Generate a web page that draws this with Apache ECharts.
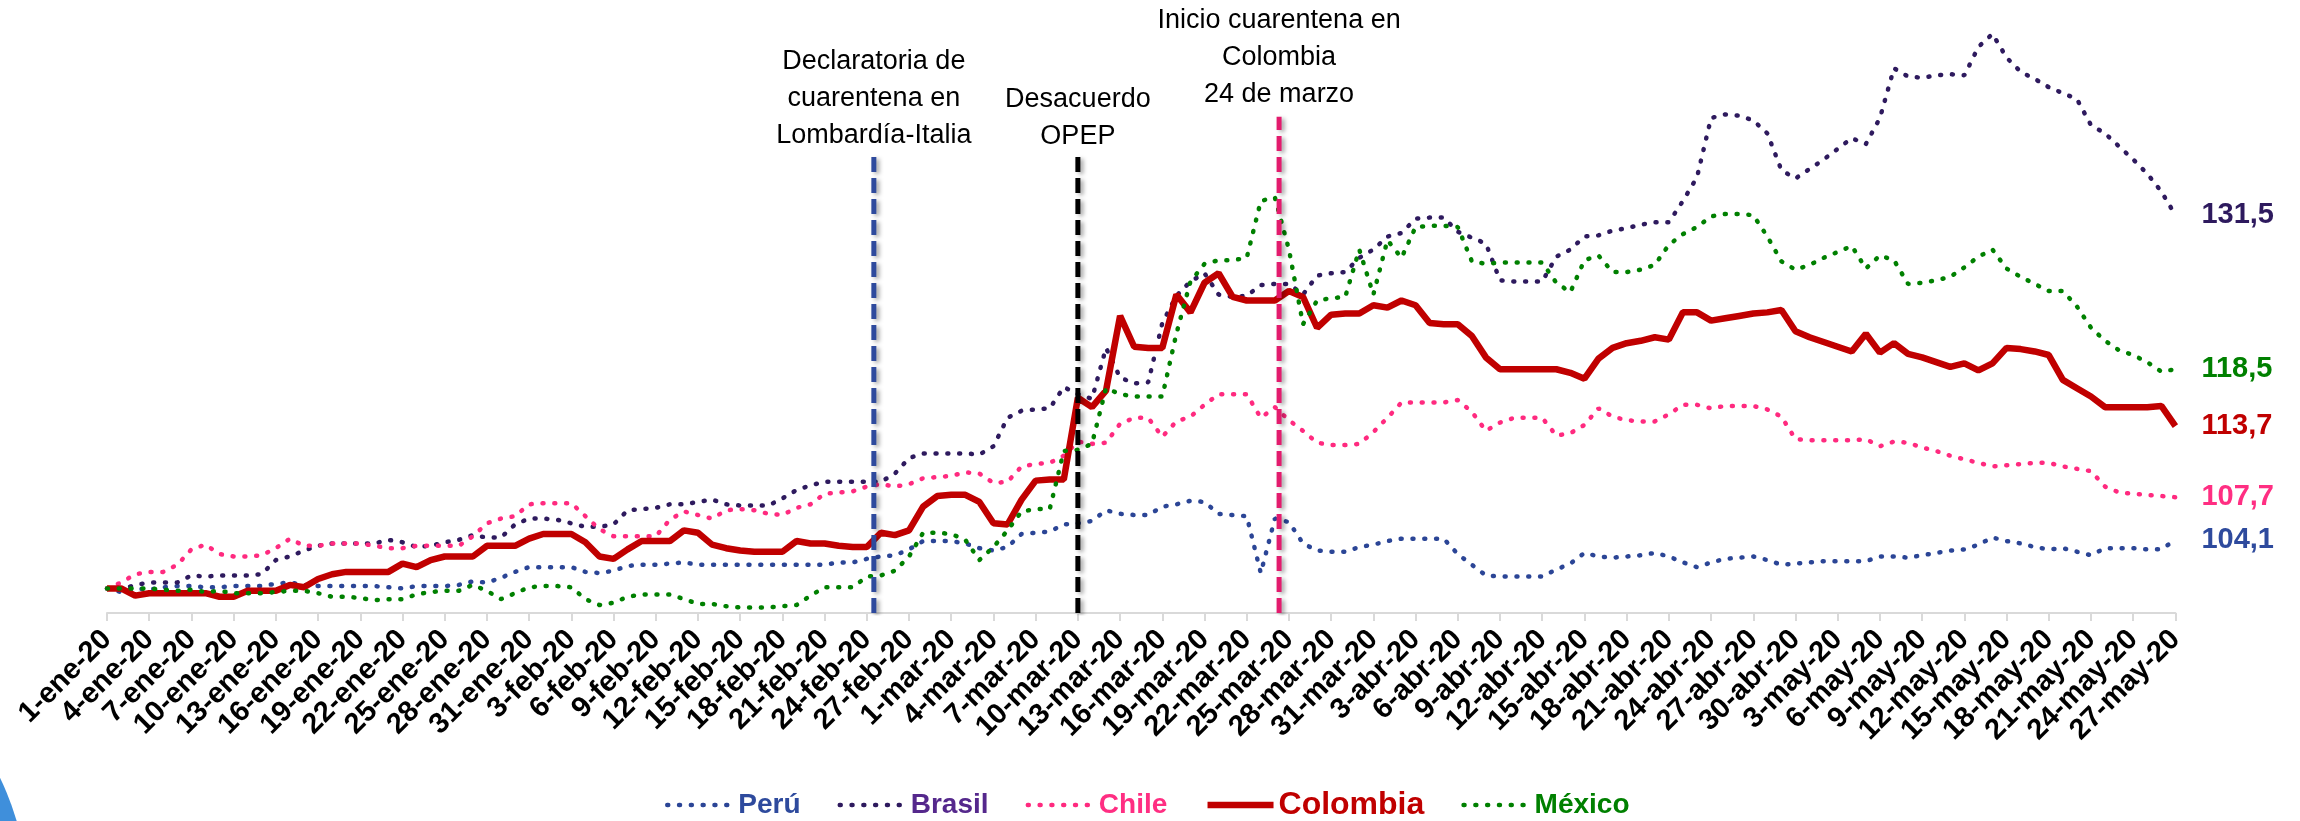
<!DOCTYPE html>
<html>
<head>
<meta charset="utf-8">
<script src="https://cdn.jsdelivr.net/npm/echarts@6/dist/echarts.min.js"></script>
<style>
html, body { margin: 0; padding: 0; background: #fff; }
#main { width: 2300px; height: 821px; }
</style>
</head>
<body>
<div id="main"></div>
<script>
// eje x: un dato por día calendario, 1-ene-20 a 27-may-20
const meses = ['ene', 'feb', 'mar', 'abr', 'may'];
const diasMes = [31, 29, 31, 30, 27];
const fechas = [];
meses.forEach((m, k) => {
  for (let d = 1; d <= diasMes[k]; d++) fechas.push(d + '-' + m + '-20');
});

// índices (1-ene-20 = 100)
const peru = [
  100, 99.7, 100.0, 99.9, 100.1, 100.2, 100.2, 100.1, 100.1, 100.2, 100.2, 100.2, 100.4, 100.5, 100.3, 100.2,
  100.2, 100.2, 100.2, 100.2, 100.1, 100.0, 100.2, 100.2, 100.2, 100.3, 100.6, 100.5, 100.9, 101.4, 101.8,
  101.8, 101.8, 101.8, 101.4, 101.3, 101.5, 101.9, 102.0, 102.0, 102.1, 102.2, 102.0, 102.0, 102.0, 102.0,
  102.0, 102.0, 102.0, 102.0, 102.0, 102.0, 102.2, 102.2, 102.5, 102.7, 102.8, 103.3, 104.0, 104.0,
  104.0, 103.8, 103.4, 103.2, 103.5, 104.6, 104.7, 104.8, 105.4, 105.5, 105.7, 106.6, 106.3, 106.2, 106.2, 106.9,
  107.1, 107.4, 107.3, 106.3, 106.2, 106.1, 101.3, 105.9, 105.6, 103.8, 103.2, 103.1, 103.1, 103.5, 103.7,
  104.0, 104.2, 104.2, 104.2, 104.2, 102.9, 102.0, 101.1, 101.0, 101.0, 101.0, 101.0, 101.6, 102.1, 103.0,
  102.7, 102.6, 102.7, 102.8, 103.0, 102.7, 102.2, 101.8, 102.2, 102.5, 102.6, 102.7, 102.4, 102.0, 102.1,
  102.2, 102.3, 102.3, 102.3, 102.3, 102.7, 102.7, 102.6, 102.8, 103.0, 103.2, 103.3, 103.7, 104.3,
  104.0, 103.8, 103.5, 103.3, 103.4, 103.1, 102.8, 103.4, 103.4, 103.4, 103.3, 103.3, 104.1
];
const brasil = [
  100, 99.9, 100.3, 100.5, 100.5, 100.5, 101.1, 101.0, 101.1, 101.1, 101.1, 101.2, 102.4, 102.7, 103.2, 103.6,
  103.8, 103.8, 103.8, 103.8, 104.1, 103.9, 103.5, 103.6, 103.9, 104.1, 104.5, 104.3, 104.3, 105.4, 105.9,
  105.9, 105.8, 105.5, 105.2, 105.2, 105.4, 106.6, 106.7, 106.8, 107.1, 107.1, 107.3, 107.5, 107.1, 107.0,
  107.0, 107.0, 107.6, 108.3, 108.7, 109.0, 109.0, 109.0, 109.0, 109.0, 109.7, 111.0, 111.4, 111.4,
  111.4, 111.4, 111.3, 112.0, 114.4, 115.0, 115.1, 115.2, 117.0, 116.4, 116.0, 120.3, 117.8, 117.3, 117.4, 122.4,
  124.7, 125.9, 126.6, 124.8, 124.6, 124.7, 125.6, 125.7, 125.7, 124.8, 126.4, 126.6, 126.7, 127.9, 128.6,
  129.7, 130.0, 131.2, 131.3, 131.3, 130.1, 129.6, 129.1, 126.0, 125.9, 125.9, 125.9, 128.0, 128.6, 129.7,
  129.8, 130.2, 130.4, 130.7, 130.9, 130.9, 132.7, 134.7, 139.7, 140.0, 139.9, 139.5, 138.4, 135.3, 134.6,
  135.4, 136.2, 137.1, 138.0, 137.5, 139.7, 143.9, 143.2, 143.1, 143.3, 143.4, 143.3, 145.7, 146.8,
  144.8, 143.6, 143.0, 142.3, 141.8, 141.3, 139.1, 138.4, 137.3, 136.2, 135.0, 133.5, 131.5
];
const chile = [
  100, 100.5, 101.2, 101.4, 101.4, 102.0, 103.3, 103.7, 102.9, 102.7, 102.7, 102.8, 103.4, 104.2, 103.6, 103.6,
  103.8, 103.8, 103.8, 103.6, 103.4, 103.4, 103.6, 103.6, 103.6, 103.6, 104.4, 105.5, 105.9, 106.1, 107.1,
  107.2, 107.2, 107.2, 106.1, 105.0, 104.4, 104.4, 104.4, 104.4, 105.8, 106.5, 106.2, 105.9, 106.6, 106.7,
  106.6, 106.3, 106.2, 106.8, 107.1, 108.0, 108.1, 108.2, 108.6, 108.8, 108.6, 108.8, 109.3, 109.4,
  109.5, 109.8, 109.7, 108.9, 109.0, 110.3, 110.5, 110.6, 111.2, 112.4, 112.2, 112.3, 113.9, 114.4, 114.4, 112.8,
  114.1, 114.5, 115.5, 116.4, 116.4, 116.4, 114.4, 115.3, 114.2, 113.3, 112.3, 112.1, 112.1, 112.2, 113.2,
  114.4, 115.7, 115.7, 115.7, 115.7, 115.9, 114.9, 113.3, 114.0, 114.4, 114.4, 114.4, 112.9, 113.1, 113.8,
  115.2, 114.5, 114.2, 114.1, 114.1, 114.7, 115.5, 115.5, 115.2, 115.4, 115.4, 115.4, 115.1, 114.5, 112.6,
  112.5, 112.5, 112.5, 112.5, 112.6, 112.0, 112.4, 112.3, 111.9, 111.6, 111.2, 110.9, 110.6, 110.3,
  110.4, 110.5, 110.6, 110.6, 110.3, 110.1, 109.9, 108.6, 108.1, 108.0, 107.9, 107.8, 107.7
];
const colombia = [
  100, 100, 99.4, 99.6, 99.6, 99.6, 99.6, 99.6, 99.3, 99.3, 99.8, 99.8, 99.8, 100.3, 100.1, 100.8,
  101.2, 101.4, 101.4, 101.4, 101.4, 102.1, 101.8, 102.4, 102.7, 102.7, 102.7, 103.6, 103.6, 103.6, 104.2,
  104.6, 104.6, 104.6, 103.9, 102.7, 102.5, 103.3, 104.0, 104.0, 104.0, 104.9, 104.7, 103.7, 103.4, 103.2,
  103.1, 103.1, 103.1, 104.0, 103.8, 103.8, 103.6, 103.5, 103.5, 104.7, 104.5, 104.9, 106.9, 107.8,
  107.9, 107.9, 107.3, 105.5, 105.4, 107.5, 109.1, 109.2, 109.2, 116.1, 115.3, 116.7, 123.0, 120.4, 120.3, 120.3,
  124.8, 123.3, 125.8, 126.6, 124.6, 124.3, 124.3, 124.3, 125.1, 124.6, 122.0, 123.1, 123.2, 123.2, 123.9,
  123.7, 124.3, 123.9, 122.4, 122.3, 122.3, 121.3, 119.5, 118.5, 118.5, 118.5, 118.5, 118.5, 118.2, 117.7,
  119.4, 120.3, 120.7, 120.9, 121.2, 121.0, 123.3, 123.3, 122.6, 122.8, 123.0, 123.2, 123.3, 123.5, 121.7,
  121.2, 120.8, 120.4, 120.0, 121.5, 119.9, 120.7, 119.8, 119.5, 119.1, 118.7, 119.0, 118.4, 119.0,
  120.3, 120.2, 120.0, 119.7, 117.6, 116.9, 116.2, 115.3, 115.3, 115.3, 115.3, 115.4, 113.7
];
const mexico = [
  100, 100, 100, 100, 99.9, 99.8, 99.9, 99.7, 99.8, 99.6, 99.6, 99.6, 99.7, 99.8, 99.8, 99.6,
  99.3, 99.3, 99.2, 99.0, 99.1, 99.1, 99.5, 99.7, 99.8, 99.8, 100.3, 99.8, 99.1, 99.6, 100.1,
  100.2, 100.2, 100.1, 99.1, 98.6, 98.8, 99.3, 99.5, 99.5, 99.5, 99.1, 98.7, 98.7, 98.5, 98.4,
  98.4, 98.4, 98.5, 98.6, 99.4, 100.1, 100.1, 100.1, 101.0, 101.1, 101.5, 102.7, 104.7, 104.7,
  104.6, 104.1, 102.4, 103.5, 104.9, 106.5, 106.7, 106.7, 111.6, 111.7, 112.2, 116.9, 116.4, 116.2, 116.2, 116.2,
  121.5, 125.9, 127.4, 127.7, 127.7, 127.9, 132.7, 133.0, 128.6, 122.3, 124.3, 124.5, 124.6, 128.6, 124.8,
  129.4, 127.9, 130.5, 130.6, 130.6, 130.5, 127.6, 127.4, 127.5, 127.5, 127.5, 127.5, 125.8, 125.0, 127.7,
  128.1, 126.7, 126.7, 126.9, 127.3, 129.0, 129.9, 130.5, 131.4, 131.6, 131.6, 131.5, 129.7, 127.6, 126.9,
  127.3, 127.9, 128.4, 128.9, 127.0, 128.1, 127.7, 125.7, 125.8, 126.0, 126.3, 127.1, 128.0, 128.6,
  127.0, 126.3, 125.7, 125.1, 125.1, 123.8, 122.0, 120.9, 120.1, 119.7, 119.1, 118.3, 118.5
];

// eventos marcados con líneas verticales (día desde 1-ene, altura del tope)
const eventoDia = [54.5, 69, 83.3];
const eventoTope = [136.7, 136.8, 139.8];
const eventoTexto = [
  'Declaratoria de\ncuarentena en\nLombardía-Italia',
  'Desacuerdo\nOPEP',
  'Inicio cuarentena en\nColombia\n24 de marzo'
];

const fuente = "'Liberation Sans', Arial, sans-serif";
const yMin = 97.93, yMax = 149.66;

const etiquetaFinal = color => ({
  show: true, distance: 26, color: color, fontFamily: fuente,
  fontSize: 29, fontWeight: 'bold',
  formatter: p => p.value.toFixed(1).replace('.', ',')
});

const punteada = (nombre, datos, color, colorEtiqueta) => ({
  name: nombre,
  type: 'line',
  data: datos,
  symbol: 'none',
  lineStyle: { color: color, width: 4.5, type: [1, 10.8], cap: 'round' },
  itemStyle: { color: color },
  endLabel: etiquetaFinal(colorEtiqueta)
});

const evento = (k, color, dist) => ({
  name: 'ev' + k,
  type: 'line',
  xAxisIndex: 1,
  data: [[eventoDia[k], yMin], [eventoDia[k], eventoTope[k]]],
  symbol: 'none',
  silent: true,
  z: 10,
  lineStyle: {
    color: color, width: 5, type: [15, 6],
    shadowColor: 'rgba(0,0,0,0.35)', shadowBlur: 4, shadowOffsetX: 3, shadowOffsetY: 2
  },
  markPoint: {
    symbol: 'circle', symbolSize: 0, silent: true,
    data: [{ coord: [eventoDia[k], eventoTope[k]] }],
    label: {
      show: true, position: 'top', distance: dist,
      formatter: eventoTexto[k], color: '#000', fontFamily: fuente,
      fontSize: 27, lineHeight: 37, align: 'center'
    }
  }
});

const chart = echarts.init(document.getElementById('main'));
chart.setOption({
  animation: false,
  backgroundColor: '#fff',
  graphic: [{
    type: 'circle', shape: { cx: -253, cy: 900, r: 281 },
    style: { fill: '#3F8FDB' }, silent: true
  }],
  grid: { left: 107, right: 124.6, top: 0, height: 613 },
  legend: {
    left: 660, top: 784, itemWidth: 66, itemHeight: 20, itemGap: 37,
    itemStyle: { opacity: 0 },
    lineStyle: { width: 'inherit' },
    textStyle: { fontFamily: fuente, fontSize: 28, fontWeight: 'bold' },
    data: [
      { name: 'Perú', textStyle: { color: '#2E4A9D' } },
      { name: 'Brasil', textStyle: { color: '#55288C' } },
      { name: 'Chile', textStyle: { color: '#FF2E82' } },
      { name: 'Colombia', textStyle: { color: '#C00000', fontSize: 32 } },
      { name: 'México', textStyle: { color: '#008000' } }
    ]
  },
  xAxis: [
    {
      type: 'category',
      data: fechas,
      boundaryGap: false,
      axisLine: { lineStyle: { color: '#D9D9D9', width: 2 } },
      axisTick: { interval: 2, length: 8, lineStyle: { color: '#D9D9D9', width: 2 } },
      axisLabel: {
        interval: 2, rotate: 45, margin: 22, color: '#000',
        fontFamily: fuente, fontSize: 29, fontWeight: 'bold'
      }
    },
    { type: 'value', min: 0, max: 147, show: false }
  ],
  yAxis: { type: 'value', min: yMin, max: yMax, show: false, splitLine: { show: false } },
  series: [
    punteada('Perú', peru, '#2B4596', '#2E4A9D'),
    punteada('Brasil', brasil, '#2E1A5E', '#2E1A5E'),
    punteada('Chile', chile, '#FF2A7F', '#FF2E82'),
    {
      name: 'Colombia',
      type: 'line',
      data: colombia,
      symbol: 'none',
      lineStyle: { color: '#C00000', width: 6.5 },
      itemStyle: { color: '#C00000' },
      endLabel: etiquetaFinal('#C00000')
    },
    punteada('México', mexico, '#008000', '#008000'),
    evento(0, '#2E4A9D', 0),
    evento(1, '#000000', -3),
    evento(2, '#E31B6D', 4)
  ]
});
</script>
</body>
</html>
